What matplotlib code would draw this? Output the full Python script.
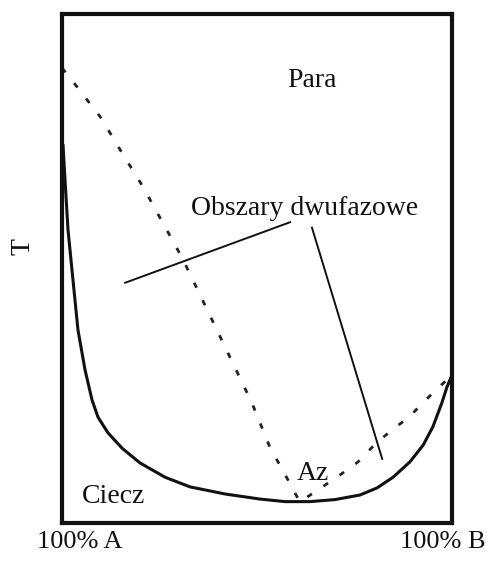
import matplotlib
matplotlib.use("Agg")
import matplotlib.pyplot as plt

# Solid curve (liquid / boiling curve), x in % B, y in relative T
liq_x = [0.26, 0.77, 1.54, 2.82, 4.10, 5.90, 7.69, 9.23, 11.8, 15.4, 20.0, 26.4, 32.8, 41.8,
         50.8, 57.2, 63.6, 70.0, 76.4, 80.8, 84.9, 89.2, 92.6, 95.1, 97.4, 98.7, 100]
liq_y = [74.3, 67.4, 57.6, 47.7, 37.9, 30.1, 24.2, 20.8, 17.7, 14.7, 11.8, 9.0, 7.1, 5.7,
         4.7, 4.2, 4.2, 4.6, 5.5, 6.9, 9.0, 12.0, 15.3, 18.9, 23.6, 26.7, 29.1]

# Dotted curve (vapour / dew curve)
vap_x = [0, 3.85, 10.0, 15.4, 20.8, 25.9, 30.8, 35.4, 48.7, 53.3, 57.7, 60.3, 61.0, 64.4,
         70.5, 75.9, 80.8, 86.2, 89.0, 91.5, 94.1, 96.7, 99.2, 100]
vap_y = [89.4, 85.7, 79.6, 72.7, 66.0, 58.9, 52.1, 44.8, 23.6, 14.9, 8.8, 5.1, 4.1, 5.9,
         9.0, 12.0, 15.9, 19.2, 20.8, 22.8, 24.8, 26.7, 28.5, 29.1]

# Tie lines pointing to the two-phase regions
tie1_x = [16.2, 58.5]
tie1_y = [47.2, 59.1]
tie2_x = [64.1, 82.1]
tie2_y = [58.0, 12.6]

labels = {
    "Para": (57.7, 85.7),
    "Obszary dwufazowe": (62.3, 60.5),
    "Az": (60.3, 8.4),
    "Ciecz": (5.1, 3.9),
}
x_labels = ["100% A", "100% B"]
x_label_pos = [4.6, 97.7]
y_label = "T"

fig = plt.figure(figsize=(4.98, 5.70), dpi=100)
ax = fig.add_axes([62/498, 1 - 523/570, (452-62)/498, (523-14)/570])
ax.set_xlim(0, 100)
ax.set_ylim(0, 100)
ax.set_xticks([])
ax.set_yticks([])
for s in ax.spines.values():
    s.set_linewidth(3)
    s.set_color("#111111")

ax.plot(liq_x, liq_y, color="#111111", lw=2.2, solid_capstyle="round", solid_joinstyle="round")
ax.plot(vap_x, vap_y, color="#222222", lw=2.0, linestyle=(0, (2, 5)))
ax.plot(tie1_x, tie1_y, color="#111111", lw=1.4)
ax.plot(tie2_x, tie2_y, color="#111111", lw=1.4)

font = dict(family="Liberation Serif", color="#111111")
for txt, (x, y) in labels.items():
    ha = "center" if txt == "Obszary dwufazowe" else "left"
    ax.text(x, y, txt, ha=ha, va="baseline", fontsize=20, **font)

for txt, x in zip(x_labels, x_label_pos):
    ax.text(x, -4.9, txt, ha="center", va="baseline", fontsize=19, clip_on=False, **font)

ax.text(-10, 54.4, y_label, ha="center", va="center", rotation=90, fontsize=20, clip_on=False, **font)

fig.savefig("out.png", dpi=100)
